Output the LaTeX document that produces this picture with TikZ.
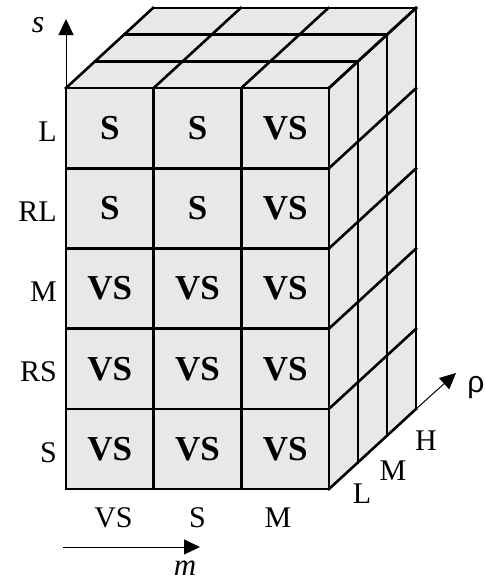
\documentclass[tikz,border=0pt]{standalone}
\usepackage{fontspec}
\setmainfont{Liberation Serif}
\newfontfamily\sansrho{Liberation Sans}
\usetikzlibrary{arrows.meta}
\tikzset{
  face/.style={fill=black!9, draw=none},
  grid/.style={line width=2.6pt, line cap=rect, line join=miter},
  axis/.style={line width=1pt, -{Triangle[length=16pt,width=15pt]}},
  cell/.style={font=\fontsize{35}{35}\selectfont\bfseries, inner sep=0pt},
  lab/.style={font=\fontsize{30}{30}\selectfont, inner sep=0pt},
}
\begin{document}
\begin{tikzpicture}[x=1pt,y=-1pt]
\useasboundingbox (0,0) rectangle (486,584);
\def\W{87.667}
\def\H{80.2}
\def\DX{29}
\def\DY{-26.667}
% faces
\fill[face] (66,88) rectangle (329,489);
\fill[face] (66,88) -- (153,8) -- (416,8) -- (329,88) -- cycle;
\fill[face] (329,88) -- (416,8) -- (416,409) -- (329,489) -- cycle;
% front grid
\foreach \i in {0,1,2,3}
  \draw[grid] ({66+\i*\W},88) -- ({66+\i*\W},489);
\foreach \j in {0,...,5}
  \draw[grid] (66,{88+\j*\H}) -- (329,{88+\j*\H});
% top grid
\foreach \k in {1,2,3}
  \draw[grid] ({66+\k*\DX},{88+\k*\DY}) -- ({329+\k*\DX},{88+\k*\DY});
\foreach \i in {0,1,2,3}
  \draw[grid] ({66+\i*\W},88) -- ({66+\i*\W+3*\DX},{88+3*\DY});
% right grid
\foreach \k in {1,2,3}
  \draw[grid] ({329+\k*\DX},{88+\k*\DY}) -- ({329+\k*\DX},{489+\k*\DY});
\foreach \j in {0,...,5}
  \draw[grid] (329,{88+\j*\H}) -- ({329+3*\DX},{88+\j*\H+3*\DY});
% cell texts
\foreach \r/\a/\b/\c in {0/S/S/VS,1/S/S/VS,2/VS/VS/VS,3/VS/VS/VS,4/VS/VS/VS}{
  \node[cell] (c\r a) at ({66+0.5*\W},{88+(\r+0.5)*\H}) {\a};
  \node[cell] (c\r b) at ({66+1.5*\W},{88+(\r+0.5)*\H}) {\b};
  \node[cell] (c\r c) at ({66+2.5*\W},{88+(\r+0.5)*\H}) {\c};
}
% row labels
\foreach \r/\t in {0/L,1/RL,2/M,3/RS,4/S}
  \node[lab, anchor=east] (r\r) at (57,{88+(\r+0.5)*\H+3.5}) {\t};
% column labels
\node[lab] (mVS) at (113.5,518) {VS};
\node[lab] (mS) at (197.5,518) {S};
\node[lab] (mM) at (278,518) {M};
% depth labels
\node[lab] (dL) at (362,494) {L};
\node[lab] (dM) at (393,471) {M};
\node[lab] (dH) at (426,441) {H};
% axes
\coordinate (sO) at (66,88);
\coordinate (sT) at (66,19);
\draw[axis] (sO) -- (sT);
\node[lab, font=\fontsize{32}{32}\selectfont\itshape] (sl) at (38,25) {s};
\coordinate (mO) at (63,547);
\coordinate (mT) at (200,547);
\draw[axis] (mO) -- (mT);
\node[lab, font=\fontsize{31}{31}\selectfont\itshape] (ml) at (185,568) {m};
\coordinate (rO) at (416,409);
\coordinate (rT) at (456,373);
\draw[axis] (rO) -- (rT);
\node[lab, font=\fontsize{30}{30}\selectfont\sansrho] (rl) at (476,388) {ρ};
\end{tikzpicture}
\end{document}
